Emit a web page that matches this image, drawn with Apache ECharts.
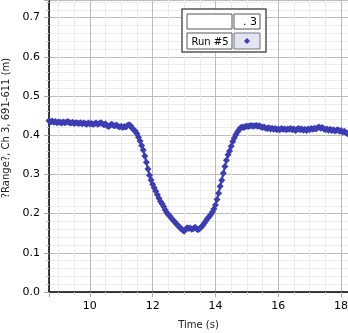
<!DOCTYPE html>
<html>
<head>
<meta charset="utf-8">
<script src="https://cdn.jsdelivr.net/npm/echarts@6/dist/echarts.min.js"></script>
<style>
  html, body { margin: 0; padding: 0; background: #fff; }
  #chart { width: 348px; height: 333px; }
</style>
</head>
<body>
<div id="chart"></div>
<script>
// sampling of run #5: first time and step (s)
var timeStart = 8.7;
var timeStep = 0.05;
// range values (m)
var rangeValues = [
  0.437, 0.434, 0.436, 0.433, 0.435, 0.432, 0.434, 0.433, 0.431, 0.434,
  0.432, 0.433, 0.435, 0.432, 0.431, 0.433, 0.430, 0.432, 0.431, 0.430,
  0.432, 0.429, 0.431, 0.430, 0.428, 0.431, 0.429, 0.430, 0.428, 0.429,
  0.431, 0.428, 0.430, 0.432, 0.429, 0.427, 0.429, 0.424, 0.422, 0.426,
  0.428, 0.425, 0.424, 0.426, 0.423, 0.421, 0.423, 0.420, 0.422, 0.421,
  0.425, 0.427, 0.424, 0.418, 0.414, 0.410, 0.404, 0.395, 0.385, 0.374,
  0.362, 0.347, 0.331, 0.314, 0.298, 0.286, 0.275, 0.266, 0.257, 0.248,
  0.239, 0.231, 0.225, 0.218, 0.210, 0.203, 0.197, 0.193, 0.188, 0.183,
  0.179, 0.174, 0.170, 0.166, 0.162, 0.158, 0.155, 0.160, 0.164, 0.162,
  0.163, 0.160, 0.162, 0.165, 0.161, 0.159, 0.162, 0.166, 0.170, 0.176,
  0.182, 0.188, 0.192, 0.198, 0.204, 0.212, 0.222, 0.236, 0.252, 0.270,
  0.285, 0.303, 0.320, 0.336, 0.350, 0.360, 0.372, 0.384, 0.393, 0.401,
  0.408, 0.414, 0.419, 0.421, 0.420, 0.422, 0.423, 0.422, 0.424, 0.425,
  0.423, 0.424, 0.425, 0.423, 0.424, 0.421, 0.420, 0.421, 0.418, 0.417,
  0.419, 0.416, 0.418, 0.415, 0.417, 0.414, 0.416, 0.414, 0.417, 0.415,
  0.416, 0.414, 0.416, 0.415, 0.417, 0.414, 0.416, 0.412, 0.415, 0.417,
  0.414, 0.416, 0.413, 0.415, 0.412, 0.416, 0.414, 0.417, 0.415, 0.418,
  0.416, 0.419, 0.421, 0.418, 0.420, 0.416, 0.414, 0.416, 0.413, 0.415,
  0.412, 0.414, 0.411, 0.413, 0.414, 0.410, 0.412, 0.408, 0.410, 0.407,
  0.404
];
var xRange = [8.7, 18.22];
var yRange = [0, 0.745];
var legendRun = 'Run #5';
var legendChannel = '. 3';

(function () {
  var myChart = echarts.init(document.getElementById('chart'));
  var pts = rangeValues.map(function (v, i) {
    return [+(timeStart + i * timeStep).toFixed(2), v];
  });
  var lineColor = '#3c3cb4';
  var font = 'DejaVu Sans';

  var option = {
    animation: false,
    backgroundColor: '#fff',
    grid: { left: 49, right: 0, top: 0, bottom: 41, outerBoundsMode: 'none' },
    xAxis: {
      type: 'value',
      min: xRange[0],
      max: xRange[1],
      splitNumber: 5,
      name: 'Time (s)',
      nameLocation: 'middle',
      nameGap: 28,
      nameTextStyle: { fontFamily: font, fontSize: 10, color: '#222' },
      axisLine: { show: true, lineStyle: { color: '#000', width: 1.5 } },
      axisTick: { show: true, length: 5, lineStyle: { color: '#aaa' } },
      minorTick: { show: true, splitNumber: 4, length: 3, lineStyle: { color: '#ccc' } },
      axisLabel: { showMinLabel: false, showMaxLabel: false, margin: 9, fontFamily: font, fontSize: 11, color: '#000' },
      splitLine: { show: true, lineStyle: { color: '#bcbcbc' } },
      minorSplitLine: { show: true, lineStyle: { color: '#ececec' } }
    },
    yAxis: {
      type: 'value',
      min: yRange[0],
      max: yRange[1],
      splitNumber: 7,
      name: '?Range?, Ch 3, 691-611 (m)',
      nameLocation: 'middle',
      nameGap: 36,
      nameTextStyle: { fontFamily: font, fontSize: 10, color: '#222', padding: [0, 0, 0, 36] },
      axisLine: { show: true, lineStyle: { color: '#000', width: 1.5 } },
      axisTick: { show: true, length: 5, lineStyle: { color: '#aaa' } },
      minorTick: { show: true, splitNumber: 5, length: 3, lineStyle: { color: '#ccc' } },
      axisLabel: {
        showMaxLabel: false, margin: 9, fontFamily: font, fontSize: 11, color: '#000',
        formatter: function (v) { return v.toFixed(1); }
      },
      splitLine: { show: true, lineStyle: { color: '#bcbcbc' } },
      minorSplitLine: { show: true, lineStyle: { color: '#ececec' } }
    },
    series: [{
      type: 'line',
      data: pts,
      symbol: 'diamond',
      symbolSize: 7,
      showAllSymbol: true,
      lineStyle: { color: lineColor, width: 2 },
      itemStyle: { color: lineColor }
    }],
    // legend box drawn like the original instrument panel
    graphic: [
      { type: 'rect', shape: { x: 182, y: 9, width: 84, height: 43 }, style: { fill: '#fff', stroke: '#555', lineWidth: 1.5 }, z: 100 },
      { type: 'rect', shape: { x: 187, y: 14, width: 45, height: 15 }, style: { fill: '#fff', stroke: '#555', lineWidth: 1 }, z: 101 },
      { type: 'rect', shape: { x: 234, y: 14, width: 26, height: 15 }, style: { fill: '#fff', stroke: '#555', lineWidth: 1 }, z: 101 },
      { type: 'rect', shape: { x: 187, y: 33, width: 45, height: 16 }, style: { fill: '#fff', stroke: '#555', lineWidth: 1 }, z: 101 },
      { type: 'rect', shape: { x: 234, y: 33, width: 26, height: 16 }, style: { fill: '#e4e4f4', stroke: '#777', lineWidth: 1 }, z: 101 },
      { type: 'text', x: 257, y: 22, style: { text: legendChannel, align: 'right', verticalAlign: 'middle', font: '11px "DejaVu Sans"', fill: '#000' }, z: 102 },
      { type: 'text', x: 210, y: 42, style: { text: legendRun, align: 'center', verticalAlign: 'middle', font: '10px "DejaVu Sans"', fill: '#000' }, z: 102 },
      { type: 'polygon', shape: { points: [[247, 38], [250, 41], [247, 44], [244, 41]] }, style: { fill: lineColor }, z: 102 }
    ]
  };
  myChart.setOption(option);
})();
</script>
</body>
</html>
